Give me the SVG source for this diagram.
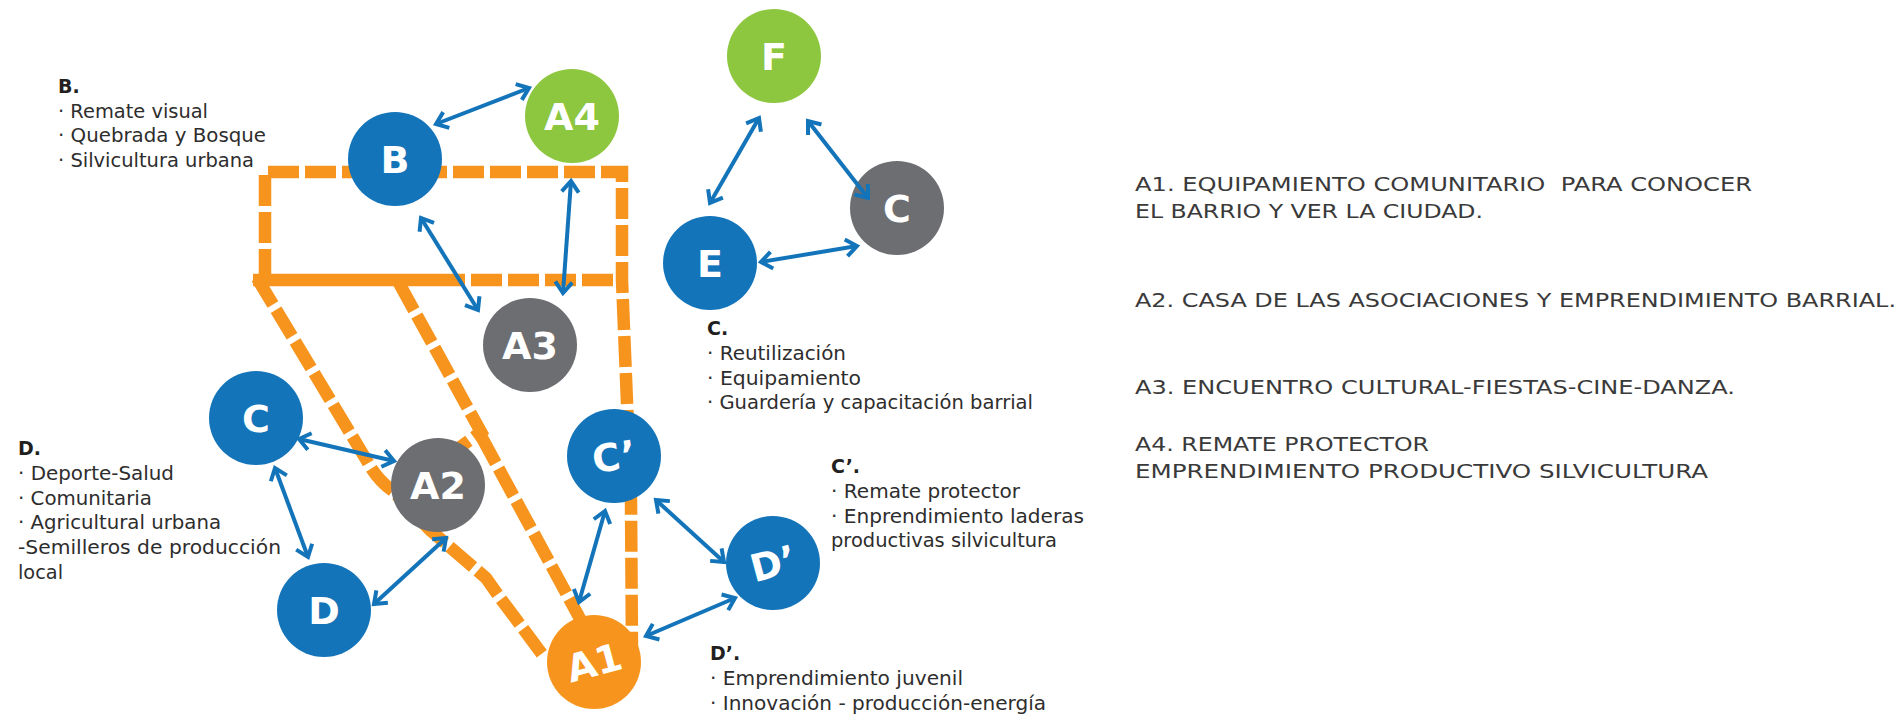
<svg xmlns="http://www.w3.org/2000/svg" width="1899" height="725" viewBox="0 0 1899 725">
<style>
.zone{fill:none;stroke:#F7941D;stroke-width:12.5;stroke-dasharray:31 6;stroke-linejoin:miter}
.zs{fill:none;stroke:#F7941D;stroke-width:12.5}
.arr{stroke:#1374BA;stroke-width:4;marker-start:url(#ah);marker-end:url(#ah)}
.blue{fill:#1374BA}.green{fill:#8DC63F}.gray{fill:#6D6E71}.orange{fill:#F7941D}
.lbl{font-family:"DejaVu Sans","Liberation Sans",sans-serif;font-weight:bold;font-size:38px;fill:#fff;text-anchor:middle}
.t{font-family:"DejaVu Sans","Liberation Sans",sans-serif;font-size:19px;fill:#2e2d2d}
.h{font-family:"DejaVu Sans","Liberation Sans",sans-serif;font-size:19px;font-weight:bold;fill:#231f20}
.r{font-family:"DejaVu Sans","Liberation Sans",sans-serif;font-size:20px;fill:#3a3a3a}
</style>
<defs>
<marker id="ah" viewBox="-16 -12 21 24" refX="0" refY="0" markerWidth="21" markerHeight="24" markerUnits="userSpaceOnUse" orient="auto-start-reverse">
<path d="M-11,-8.5 L0,0 L-11,8.5" fill="none" stroke="#1374BA" stroke-width="4"/>
</marker>
</defs>

<g id="zones">
<path class="zone" d="M265,280 V172 H622 L622,280 L631,500 L632,652"/>
<path class="zs" d="M253,280 H434"/>
<path class="zone" d="M434,280 H622"/>
<path class="zone" d="M257,278 L370,466 Q379,481 393,491 L430,530 L486,578 L498,595 L545,658"/>
<path class="zone" d="M399,283 L481,432 L456,450"/>
<path class="zone" d="M481,436 L578,615 L592,642"/>
</g>

<g id="node-B"><circle class="blue" cx="395" cy="159" r="47"/><text class="lbl" x="395" y="173">B</text></g>
<g id="node-A4"><circle class="green" cx="572" cy="116" r="47"/><text class="lbl" x="572" y="130">A4</text></g>
<g id="node-A3"><circle class="gray" cx="530" cy="345" r="47"/><text class="lbl" x="530" y="359">A3</text></g>
<g id="node-C-left"><circle class="blue" cx="256" cy="418" r="47"/><text class="lbl" x="256" y="432">C</text></g>
<g id="node-A2"><circle class="gray" cx="438" cy="485" r="47"/><text class="lbl" x="438" y="499">A2</text></g>
<g id="node-D"><circle class="blue" cx="324" cy="610" r="47"/><text class="lbl" x="324" y="624">D</text></g>
<g id="node-Cp"><circle class="blue" cx="614" cy="456" r="47"/><text class="lbl" x="614" y="470" transform="rotate(-8 614 456)">C’</text></g>
<g id="node-Dp"><circle class="blue" cx="773" cy="563" r="47"/><text class="lbl" x="773" y="577" transform="rotate(-15 773 563)">D’</text></g>
<g id="node-A1"><circle class="orange" cx="594" cy="662" r="47"/><text class="lbl" x="594" y="676" transform="rotate(-15 594 662)">A1</text></g>
<g id="node-F"><circle class="green" cx="774" cy="56" r="47"/><text class="lbl" x="774" y="70">F</text></g>
<g id="node-C-right"><circle class="gray" cx="897" cy="208" r="47"/><text class="lbl" x="897" y="222">C</text></g>
<g id="node-E"><circle class="blue" cx="710" cy="263" r="47"/><text class="lbl" x="710" y="277">E</text></g>

<g id="connectors">
<line class="arr" x1="436" y1="124" x2="529" y2="88"/>
<line class="arr" x1="421" y1="218" x2="478" y2="310"/>
<line class="arr" x1="571" y1="181" x2="563" y2="293"/>
<line class="arr" x1="299" y1="439" x2="394" y2="461"/>
<line class="arr" x1="275" y1="468" x2="308" y2="557"/>
<line class="arr" x1="374" y1="604" x2="446" y2="538"/>
<line class="arr" x1="605" y1="511" x2="579" y2="602"/>
<line class="arr" x1="656" y1="500" x2="724" y2="562"/>
<line class="arr" x1="646" y1="636" x2="735" y2="598"/>
<line class="arr" x1="759" y1="118" x2="710" y2="203"/>
<line class="arr" x1="808" y1="121" x2="868" y2="198"/>
<line class="arr" x1="761" y1="262" x2="857" y2="246"/>
</g>

<g id="text-B">
<text class="h" x="58" y="93">B.</text>
<text class="t" x="58" y="118" textLength="150" lengthAdjust="spacingAndGlyphs">· Remate visual</text>
<text class="t" x="58" y="142" textLength="208" lengthAdjust="spacingAndGlyphs">· Quebrada y Bosque</text>
<text class="t" x="58" y="167" textLength="196" lengthAdjust="spacingAndGlyphs">· Silvicultura urbana</text>
</g>
<g id="text-D">
<text class="h" x="18" y="455">D.</text>
<text class="t" x="18" y="480" textLength="156" lengthAdjust="spacingAndGlyphs">· Deporte-Salud</text>
<text class="t" x="18" y="505" textLength="134" lengthAdjust="spacingAndGlyphs">· Comunitaria</text>
<text class="t" x="18" y="529" textLength="203" lengthAdjust="spacingAndGlyphs">· Agricultural urbana</text>
<text class="t" x="18" y="554" textLength="263" lengthAdjust="spacingAndGlyphs">-Semilleros de producción</text>
<text class="t" x="18" y="579" textLength="45" lengthAdjust="spacingAndGlyphs">local</text>
</g>
<g id="text-C">
<text class="h" x="707" y="335">C.</text>
<text class="t" x="707" y="360" textLength="139" lengthAdjust="spacingAndGlyphs">· Reutilización</text>
<text class="t" x="707" y="385" textLength="154" lengthAdjust="spacingAndGlyphs">· Equipamiento</text>
<text class="t" x="707" y="409" textLength="326" lengthAdjust="spacingAndGlyphs">· Guardería y capacitación barrial</text>
</g>
<g id="text-Cp">
<text class="h" x="831" y="473">C’.</text>
<text class="t" x="831" y="498" textLength="189" lengthAdjust="spacingAndGlyphs">· Remate protector</text>
<text class="t" x="831" y="523" textLength="253" lengthAdjust="spacingAndGlyphs">· Enprendimiento laderas</text>
<text class="t" x="831" y="547" textLength="226" lengthAdjust="spacingAndGlyphs">productivas silvicultura</text>
</g>
<g id="text-Dp">
<text class="h" x="710" y="660">D’.</text>
<text class="t" x="710" y="685" textLength="253" lengthAdjust="spacingAndGlyphs">· Emprendimiento juvenil</text>
<text class="t" x="710" y="710" textLength="336" lengthAdjust="spacingAndGlyphs">· Innovación - producción-energía</text>
</g>
<g id="legend">
<text class="r" x="1135" y="191" textLength="617" lengthAdjust="spacingAndGlyphs" xml:space="preserve">A1. EQUIPAMIENTO COMUNITARIO  PARA CONOCER</text>
<text class="r" x="1135" y="218" textLength="348" lengthAdjust="spacingAndGlyphs">EL BARRIO Y VER LA CIUDAD.</text>
<text class="r" x="1135" y="307" textLength="761" lengthAdjust="spacingAndGlyphs">A2. CASA DE LAS ASOCIACIONES Y EMPRENDIMIENTO BARRIAL.</text>
<text class="r" x="1135" y="394" textLength="600" lengthAdjust="spacingAndGlyphs">A3. ENCUENTRO CULTURAL-FIESTAS-CINE-DANZA.</text>
<text class="r" x="1135" y="451" textLength="294" lengthAdjust="spacingAndGlyphs">A4. REMATE PROTECTOR</text>
<text class="r" x="1135" y="478" textLength="573" lengthAdjust="spacingAndGlyphs">EMPRENDIMIENTO PRODUCTIVO SILVICULTURA</text>
</g>
</svg>
